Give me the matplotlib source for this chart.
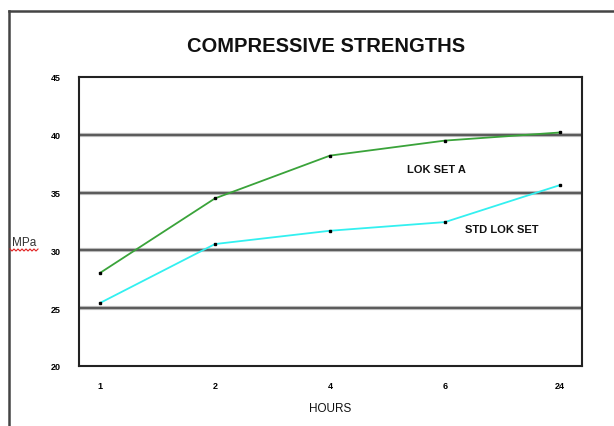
import matplotlib
matplotlib.use("Agg")
import matplotlib.pyplot as plt
from matplotlib.lines import Line2D
import numpy as np

hours = ["1", "2", "4", "6", "24"]
lokset_a = [28.05, 34.5, 38.2, 39.5, 40.2]
std_lokset = [25.45, 30.55, 31.7, 32.45, 35.65]
yticks = [20, 25, 30, 35, 40, 45]

plt.rcParams['font.family'] = ['Liberation Sans', 'DejaVu Sans']

W, H = 614, 427
fig = plt.figure(figsize=(W / 100, H / 100), dpi=100)

# outer chart frame (left and top edges visible)
fig.add_artist(Line2D([9 / W, 9 / W], [0, 1 - 12 / H], transform=fig.transFigure,
                      color='#444444', lw=1.8))
fig.add_artist(Line2D([9 / W, 1], [1 - 12 / H, 1 - 12 / H], transform=fig.transFigure,
                      color='#444444', lw=1.8))

left, right, top, bottom = 79, 582, 78, 367
ax = fig.add_axes([left / W, 1 - bottom / H, (right - left) / W, (bottom - top) / H])

x = list(range(len(hours)))
for y in yticks[1:-1]:
    ax.axhline(y, color='#b8b8b8', lw=3.0, zorder=1)
    ax.axhline(y, color='#404040', lw=1.1, zorder=1.1)

ax.plot(x, lokset_a, color='#3aa33a', lw=1.3, zorder=3,
        marker='s', ms=2.0, mfc='black', mec='black')
ax.plot(x, std_lokset, color='#33f0f0', lw=1.3, zorder=3,
        marker='s', ms=2.0, mfc='black', mec='black')

ax.set_xlim(-21 / 115, (right - 100) / 115)
ax.set_ylim(20, 45)
ax.set_xticks(x)
ax.set_xticklabels(hours)
ax.set_yticks(yticks)
ax.set_yticklabels([str(v) for v in yticks])
ax.tick_params(axis='both', length=0, labelsize=6.5)
for lab in ax.get_xticklabels() + ax.get_yticklabels():
    lab.set_fontweight('bold')
ax.tick_params(axis='y', pad=13)
ax.tick_params(axis='x', pad=11)
for s in ax.spines.values():
    s.set_color('#222222')
    s.set_linewidth(1.5)

ax.text(2.67, 37.0, "LOK SET A", fontsize=8, fontweight='bold', color='#111111',
        ha='left', va='center')
ax.text(3.17, 31.85, "STD LOK SET", fontsize=8, fontweight='bold', color='#111111',
        ha='left', va='center')

fig.text(326 / W, 1 - 47 / H, "COMPRESSIVE STRENGTHS", fontsize=14.5, fontweight='bold',
         ha='center', va='center', color='#111111')
fig.text(330 / W, 1 - 409 / H, "HOURS", fontsize=8.5, ha='center', va='center',
         color='#111111')
fig.text(24 / W, 1 - 243 / H, "MPa", fontsize=8.5, ha='center', va='center',
         color='#333333')
# spell-check style wavy underline under "MPa"
wx = np.linspace(10, 38, 15)
wy = 250 + np.where(np.arange(15) % 2 == 0, 0, 2)
fig.add_artist(Line2D(wx / W, 1 - wy / H, transform=fig.transFigure,
                      color='#e02020', lw=0.8))

fig.savefig("out.png", dpi=100)
